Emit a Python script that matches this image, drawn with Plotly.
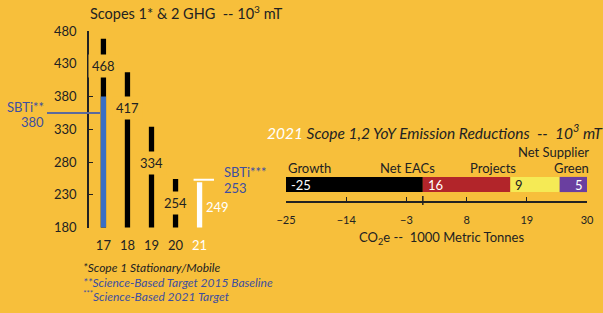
import plotly.graph_objects as go
import numpy as np

# ---------------- data ----------------
years = ["17", "18", "19", "20", "21"]
ghg_values = [468, 417, 334, 254, 249]
sbti_baseline_label = 380
sbti_baseline_bar = 380          # blue part of 2017 bar
sbti_target = 253

red_categories = ["Growth", "Net EACs", "Projects", "Net Supplier<br>Green"]
red_values = [-25, 16, 9, 5]
red_ticks = [-25, -14, -3, 8, 19, 30]

# ---------------- styling ----------------
W, H = 603, 313
BG = "#F7BF3B"
DARK = "#222222"
BLUE_TXT = "#3D4EA0"
FONT = "Lato"

def px(xp):
    return xp / W

def py(yp):
    return (H - yp) / H

fig = go.Figure()

xs = np.arange(len(years))
bar_colors = ["black"] * 4 + ["white"]
fig.add_trace(go.Bar(x=xs, y=ghg_values, marker_color=bar_colors, width=0.22,
                     marker_line_width=0,
                     xaxis="x", yaxis="y", showlegend=False, hoverinfo="skip"))
fig.add_trace(go.Bar(x=[0], y=[sbti_baseline_bar], marker_color="#3A6FC4", width=0.22,
                     marker_line_width=0,
                     xaxis="x", yaxis="y", showlegend=False, hoverinfo="skip"))

# right: horizontal stacked bar with explicit bases
bases = [0] + [sum(red_values[1:i]) for i in range(1, len(red_values))]
seg_colors = ["black", "#B2252A", "#F5EA55", "#6A3FA0"]
for v, b, c in zip(red_values, bases, seg_colors):
    fig.add_trace(go.Bar(x=[v], y=[0], base=[b], orientation="h", marker_color=c,
                         marker_line_width=0, width=0.46, xaxis="x2", yaxis="y2",
                         showlegend=False, hoverinfo="skip"))

def note(xp, yp, text, size=13, color=DARK, anchor="left"):
    return dict(x=px(xp), y=py(yp), xref="paper", yref="paper", xanchor=anchor,
                yanchor="middle", text=text, showarrow=False,
                font=dict(size=size, color=color, family=FONT))

ann = []
# left bar labels (boxes cover the bar)
label_offsets = [42, 55, 56, 37]
for i in range(4):
    ann.append(dict(x=i, y=ghg_values[i] - label_offsets[i], xref="x", yref="y",
                    xanchor="center", yanchor="middle",
                    text=str(ghg_values[i]), showarrow=False, bgcolor=BG, borderpad=3,
                    font=dict(size=13, color=DARK, family=FONT)))
ann.append(dict(x=4, y=ghg_values[4] - 38, xref="x", yref="y", text=str(ghg_values[4]),
                showarrow=False, xanchor="left", yanchor="middle", xshift=4,
                font=dict(size=13, color="white", family=FONT)))

ann += [
    note(88, 13, "Scopes 1* &amp; 2 GHG  -- 10<sup>3</sup> mT", size=14.5),
    note(46, 107, "SBTi**", color=BLUE_TXT, anchor="right"),
    note(46, 122, str(sbti_baseline_label), color=BLUE_TXT, anchor="right"),
    note(222, 172, "SBTi***", color=BLUE_TXT),
    note(222, 188, str(sbti_target), color=BLUE_TXT),
    note(81, 267, "<i>*Scope 1 Stationary/Mobile</i>", size=12),
    note(81, 282, "<i>**Science-Based Target 2015 Baseline</i>", size=12, color=BLUE_TXT),
    note(81, 296, "<i><sup>***</sup>Science-Based 2021 Target</i>", size=12, color=BLUE_TXT),
    note(265, 131, "<i><span style='color:white'>2021</span> Scope 1,2 YoY Emission Reductions  --  10<sup>3</sup> mT</i>",
         size=15.5),
    note(441, 238, "CO<sub>2</sub>e --  1000 Metric Tonnes", anchor="center"),
]

# category labels above the horizontal bar
cat_pos = [(286, "left"), (407, "center"), (493, "center"), (591, "right")]
for (xp, anchor), name in zip(cat_pos, red_categories):
    if "<br>" in name:
        top, bottom = name.split("<br>")
        ann.append(note(xp, 152, top, anchor=anchor))
        ann.append(note(xp, 168, bottom, anchor=anchor))
    else:
        ann.append(note(xp, 168, name, anchor=anchor))

# value labels in the segments
val_colors = ["white", "white", DARK, "white"]
for i, (v, b) in enumerate(zip(red_values, bases)):
    if i == 0:
        xx, anchor, sh = b + v, "left", 3
    elif i == len(red_values) - 1:
        xx, anchor, sh = b + v, "right", -2
    else:
        xx, anchor, sh = b, "left", 3
    ann.append(dict(x=xx, y=0, xref="x2", yref="y2", xanchor=anchor, yanchor="middle",
                    xshift=sh, text=str(v), showarrow=False,
                    font=dict(size=13, color=val_colors[i], family=FONT)))

shapes = [
    dict(type="line", xref="paper", yref="y", x0=px(47), x1=px(100), y0=355, y1=355,
         line=dict(color="#5B6A9C", width=2)),
    dict(type="line", xref="x", yref="y", x0=3.75, x1=4.87, y0=sbti_target, y1=sbti_target,
         line=dict(color="white", width=2)),
    dict(type="line", xref="x2", yref="paper", x0=0, x1=0, y0=py(205), y1=py(196),
         line=dict(color=DARK, width=1.5)),
]

tick_text = [f"<span style='color:white'>{y}</span>" if y == "21" else y for y in years]

fig.update_layout(
    template="none",
    width=W, height=H, margin=dict(l=0, r=0, t=0, b=0, pad=0),
    paper_bgcolor=BG, plot_bgcolor=BG, barmode="overlay",
    annotations=ann, shapes=shapes,
    xaxis=dict(domain=[px(89), px(214)], range=[-0.6, 4.6], tickvals=list(xs), ticktext=tick_text,
               showline=False, showgrid=False, zeroline=False, ticks="", automargin=False,
               tickfont=dict(size=13, color=DARK, family=FONT), ticklabelstandoff=8),
    yaxis=dict(domain=[py(227.5), py(31)], range=[180, 480], tickvals=list(range(180, 481, 50)),
               showline=True, linecolor=DARK, linewidth=1.5, ticks="inside", ticklen=4,
               tickcolor=DARK, showgrid=False, zeroline=False, automargin=False,
               tickfont=dict(size=13, color=DARK, family=FONT), ticklabelstandoff=8),
    xaxis2=dict(domain=[px(286), px(587)], range=[-25, 30], tickvals=red_ticks,
                showline=True, linecolor=DARK, linewidth=1.5, ticks="inside", ticklen=4,
                tickcolor=DARK, showgrid=False, zeroline=False, anchor="y2", automargin=False,
                tickfont=dict(size=11, color=DARK, family=FONT), ticklabelstandoff=8),
    yaxis2=dict(domain=[py(201), py(168)], range=[-0.5, 0.5], visible=False, anchor="x2",
                automargin=False),
)

fig.write_html("out.html", config={"displayModeBar": False},
               post_script="document.body.style.margin='0';document.body.style.overflow='hidden';")
